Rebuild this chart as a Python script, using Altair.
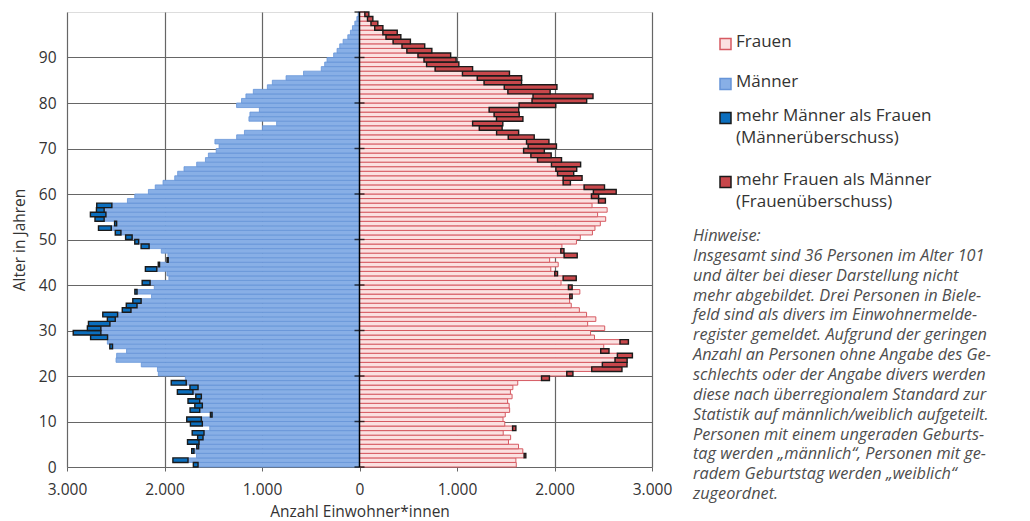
import altair as alt
import pandas as pd

ages = list(range(100))
men = [1656, 1759, 1672, 1698, 1650, 1646, 1605, 1595, 1536, 1612,
       1622, 1512, 1639, 1612, 1639, 1622, 1708, 1656, 1777, 1786,
       2063, 2072, 2238, 2497, 2491, 2389, 2533, 2586, 2584, 2653,
       2653, 2560, 2505, 2481, 2344, 2282, 2240, 2133, 2282, 2105,
       2148, 1955, 1975, 2079, 2051, 1962, 1965, 2033, 2158, 2265,
       2332, 2447, 2546, 2491, 2619, 2601, 2619, 2540, 2380, 2305,
       2165, 2095, 2015, 1895, 1865, 1800, 1670, 1580, 1550, 1470,
       1440, 1483, 1260, 1180, 995, 850, 1134, 1124, 1027, 1261,
       1210, 1165, 1089, 945, 894, 753, 574, 392, 357, 333,
       265, 230, 203, 168, 120, 93, 72, 48, 27, 14]
women = [1608, 1604, 1689, 1675, 1631, 1528, 1550, 1474, 1570, 1490,
         1472, 1495, 1540, 1535, 1519, 1565, 1548, 1573, 1623, 1867,
         2126, 2382, 2491, 2621, 2645, 2474, 2505, 2672, 2410, 2370,
         2515, 2340, 2424, 2329, 2255, 2172, 2155, 2157, 2260, 2143,
         2067, 2089, 2003, 1962, 2038, 1950, 2099, 2065, 2076, 2225,
         2265, 2389, 2415, 2470, 2525, 2442, 2540, 2385, 2451, 2379,
         2399, 2304, 2089, 2089, 2031, 2014, 1969, 1826, 1758, 1683,
         1730, 1713, 1526, 1406, 1229, 1160, 1405, 1381, 1330, 1637,
         1770, 1780, 1522, 1485, 1278, 1208, 1056, 776, 688, 662,
         600, 486, 436, 345, 272, 240, 156, 118, 82, 55]

x_ticks = [-3000, -2000, -1000, 0, 1000, 2000, 3000]
y_ticks = [0, 10, 20, 30, 40, 50, 60, 70, 80, 90]
zero_ticks = [0, 10, 20, 30, 40, 50, 60, 70, 80, 90, 100]

legend_labels = ["Frauen", "Männer", "mehr Männer als Frauen\n(Männerüberschuss)",
                 "mehr Frauen als Männer\n(Frauenüberschuss)"]
notes = ["Hinweise:",
         "Insgesamt sind 36 Personen im Alter 101",
         "und älter bei dieser Darstellung nicht",
         "mehr abgebildet. Drei Personen in Biele-",
         "feld sind als divers im Einwohnermelde-",
         "register gemeldet. Aufgrund der geringen",
         "Anzahl an Personen ohne Angabe des Ge-",
         "schlechts oder der Angabe divers werden",
         "diese nach überregionalem Standard zur",
         "Statistik auf männlich/weiblich aufgeteilt.",
         "Personen mit einem ungeraden Geburts-",
         "tag werden „männlich“, Personen mit ge-",
         "radem Geburtstag werden „weiblich“",
         "zugeordnet."]

FONT = "Open Sans"
TXT = "#333333"

df = pd.DataFrame({"age": ages, "m": men, "f": women})

W, H = 585, 455
xscale = alt.Scale(domain=[-3000, 3000], nice=False, zero=False)
yscale = alt.Scale(domain=[0, 100], nice=False, zero=False)

base = alt.Chart(df).transform_calculate(
    age2="datum.age + 1",
    mneg="-datum.m",
    mexc="-(datum.m + datum.m - datum.f)",
    fexc="datum.f + datum.f - datum.m",
)

xaxis = alt.Axis(values=x_ticks, grid=True, gridColor="#666666", gridWidth=1.2,
                 domain=False, ticks=True, tickSize=4, tickColor="#666666",
                 labelFlush=False,
                 labelExpr="replace(format(abs(datum.value), ','), ',', '.')",
                 labelFont=FONT, labelFontSize=15.5, labelColor=TXT, labelPadding=11,
                 title="Anzahl Einwohner*innen", titleFont=FONT, titleFontSize=15.5,
                 titleFontWeight="normal", titleColor=TXT, titlePadding=7)
yaxis = alt.Axis(values=y_ticks, grid=True, gridColor="#666666", gridWidth=1.2,
                 domain=False, ticks=False, labelFlush=False, labelFont=FONT,
                 labelFontSize=15.5, labelColor=TXT, labelPadding=11,
                 labelBaseline="middle",
                 title="Alter in Jahren", titleFont=FONT, titleFontSize=15.5,
                 titleFontWeight="normal", titleColor=TXT, titlePadding=11)

men_bar = base.mark_bar(fill="#88afe6", stroke="#6694d8", strokeWidth=0.8).encode(
    x=alt.X("mneg:Q", scale=xscale, axis=xaxis),
    x2=alt.value(W / 2),
    y=alt.Y("age:Q", scale=yscale, axis=yaxis),
    y2="age2:Q",
)
men_exc = base.transform_filter("datum.m > datum.f").mark_bar(
    fill="#0b6ebd", stroke="#1a1a1a", strokeWidth=1.4).encode(
    x=alt.X("mexc:Q", scale=xscale), x2="mneg:Q",
    y=alt.Y("age:Q", scale=yscale), y2="age2:Q")
women_bar = base.mark_bar(fill="#fbe1e1", stroke="#d65a62", strokeWidth=1).encode(
    x=alt.X("f:Q", scale=xscale), x2=alt.value(W / 2),
    y=alt.Y("age:Q", scale=yscale), y2="age2:Q")
women_exc = base.transform_filter("datum.f > datum.m").mark_bar(
    fill="#c8474b", stroke="#1a1a1a", strokeWidth=1.4).encode(
    x=alt.X("f:Q", scale=xscale), x2="fexc:Q",
    y=alt.Y("age:Q", scale=yscale), y2="age2:Q")

zero_line = alt.Chart(pd.DataFrame({"z": [0]})).mark_rule(color="#000000", strokeWidth=1.5).encode(
    x=alt.X("z:Q", scale=xscale), y=alt.value(0), y2=alt.value(H))
zero_tick = alt.Chart(pd.DataFrame({"t": zero_ticks})).mark_tick(
    orient="horizontal", size=10, thickness=1.5, color="#000000").encode(
    x=alt.datum(0, scale=xscale), y=alt.Y("t:Q", scale=yscale))

# legend
LX = 653
leg = pd.DataFrame({
    "label": legend_labels,
    "yc": [32, 72, 106, 170],
    "fill": ["#fbe1e1", "#88afe6", "#0b6ebd", "#c8474b"],
    "stroke": ["#d65a62", "#6694d8", "#1a1a1a", "#1a1a1a"],
})
leg_sq = alt.Chart(leg).transform_calculate(
    y1="datum.yc - 5.5", y2="datum.yc + 5.5").mark_rect(strokeWidth=1.5).encode(
    x=alt.value(LX), x2=alt.value(LX + 11),
    y=alt.Y("y1:Q", scale=None), y2="y2:Q",
    fill=alt.Fill("fill:N", scale=None), stroke=alt.Stroke("stroke:N", scale=None))
leg_txt = alt.Chart(leg).transform_calculate(
    y0="datum.yc - 10").mark_text(
    align="left", baseline="top", font=FONT, fontSize=17, color=TXT,
    lineBreak="\n", lineHeight=22).encode(
    x=alt.value(LX + 16), y=alt.Y("y0:Q", scale=None), text="label:N")

notes_txt = alt.Chart(pd.DataFrame({"t": ["\n".join(notes)]})).mark_text(
    align="left", baseline="top", font=FONT, fontSize=16.3, fontStyle="italic",
    color="#4d4d4d", lineBreak="\n", lineHeight=19.85).encode(
    x=alt.value(626), y=alt.value(216), text="t:N")

chart = alt.layer(men_bar, men_exc, women_bar, women_exc, zero_line, zero_tick,
                  leg_sq, leg_txt, notes_txt).properties(
    width=W, height=H,
    autosize=alt.AutoSizeParams(type="none"),
    padding={"left": 59, "top": 4, "right": 370, "bottom": 60},
).configure_view(stroke="#888888", strokeWidth=1.2).configure(background="white")

chart.save("out.html", embed_options={"renderer": "svg", "actions": False})
